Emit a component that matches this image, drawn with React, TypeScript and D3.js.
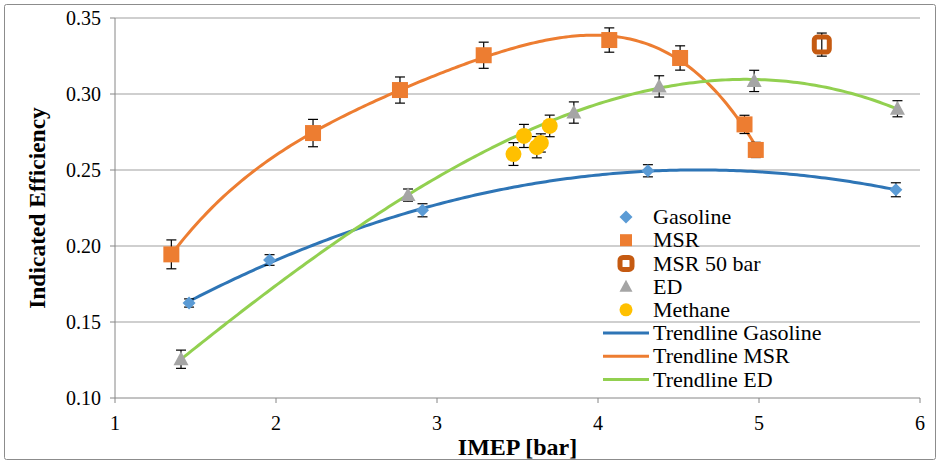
import React from 'react';
import * as d3 from 'd3';

// Measured series (IMEP in bar, indicated efficiency, ± error)
const gasolineX = [1.46, 1.96, 2.91, 4.31, 5.85];
const gasolineY = [0.1625, 0.1908, 0.2235, 0.2495, 0.237];
const gasolineErr = [0.0027, 0.0035, 0.0043, 0.004, 0.0046];

const msrX = [1.35, 2.23, 2.77, 3.29, 4.07, 4.51, 4.91, 4.98];
const msrY = [0.1945, 0.2743, 0.3026, 0.3255, 0.3355, 0.3237, 0.28, 0.2632];
const msrErr = [0.0095, 0.009, 0.0086, 0.0086, 0.008, 0.008, 0.006, 0.005];

const msr50X = [5.39];
const msr50Y = [0.3325];
const msr50Err = [0.0076];

const edX = [1.41, 2.82, 3.85, 4.38, 4.97, 5.86];
const edY = [0.1255, 0.2335, 0.2878, 0.305, 0.3086, 0.2903];
const edErr = [0.006, 0.004, 0.007, 0.007, 0.007, 0.0053];

const methaneX = [3.475, 3.54, 3.62, 3.645, 3.7];
const methaneY = [0.2605, 0.2724, 0.265, 0.2678, 0.279];
const methaneErr = [0.0075, 0.0076, 0.007, 0.006, 0.0071];

// Polynomial trendline orders
const gasolineOrder = 2;
const msrOrder = 4;
const edOrder = 3;

const xTicks = [1, 2, 3, 4, 5, 6];
const yTicks = [0.1, 0.15, 0.2, 0.25, 0.3, 0.35];

const legendLabels = [
  'Gasoline',
  'MSR',
  'MSR 50 bar',
  'ED',
  'Methane',
  'Trendline Gasoline',
  'Trendline MSR',
  'Trendline ED',
];

const C = {
  gasoline: '#5B9BD5',
  gasolineTrend: '#2E75B6',
  msr: '#ED7D31',
  msr50: '#C55A11',
  ed: '#A5A5A5',
  edTrend: '#92D050',
  methane: '#FFC000',
};

const FONT = '"Liberation Serif", "Times New Roman", serif';

// Least-squares polynomial fit; returns coefficients c0..cn
function polyfit(xs: number[], ys: number[], order: number): number[] {
  const n = order + 1;
  const A: number[][] = Array.from({ length: n }, () => new Array(n + 1).fill(0));
  for (let i = 0; i < xs.length; i++) {
    for (let r = 0; r < n; r++) {
      for (let c = 0; c < n; c++) A[r][c] += Math.pow(xs[i], r + c);
      A[r][n] += ys[i] * Math.pow(xs[i], r);
    }
  }
  for (let p = 0; p < n; p++) {
    let best = p;
    for (let r = p + 1; r < n; r++) if (Math.abs(A[r][p]) > Math.abs(A[best][p])) best = r;
    [A[p], A[best]] = [A[best], A[p]];
    for (let r = 0; r < n; r++) {
      if (r === p) continue;
      const f = A[r][p] / A[p][p];
      for (let c = p; c <= n; c++) A[r][c] -= f * A[p][c];
    }
  }
  return A.map((row, i) => row[n] / row[i]);
}

const polyval = (c: number[], x: number) => c.reduce((s, ci, i) => s + ci * Math.pow(x, i), 0);

const x = d3.scaleLinear().domain([1, 6]).range([115, 920]);
const y = d3.scaleLinear().domain([0.1, 0.35]).range([398, 18]);

function trendPath(xs: number[], ys: number[], order: number) {
  const coef = polyfit(xs, ys, order);
  const [lo, hi] = d3.extent(xs) as [number, number];
  const pts = d3.range(0, 201).map((i) => lo + ((hi - lo) * i) / 200);
  return d3
    .line<number>()
    .x((d) => x(d))
    .y((d) => y(polyval(coef, d)))(pts) as string;
}

type Shape = 'diamond' | 'square' | 'hollow' | 'triangle' | 'circle';

function Marker({ shape, cx, cy, size, color }: { shape: Shape; cx: number; cy: number; size: number; color: string }) {
  const h = size / 2;
  if (shape === 'diamond')
    return <path d={`M${cx},${cy - h}L${cx + h},${cy}L${cx},${cy + h}L${cx - h},${cy}Z`} fill={color} />;
  if (shape === 'square') return <rect x={cx - h} y={cy - h} width={size} height={size} fill={color} />;
  if (shape === 'hollow')
    return (
      <rect x={cx - h} y={cy - h} width={size} height={size} rx={3} fill="none" stroke={color} strokeWidth={5} />
    );
  if (shape === 'triangle')
    return <path d={`M${cx},${cy - h * 1.05}L${cx + h},${cy + h * 0.8}L${cx - h},${cy + h * 0.8}Z`} fill={color} />;
  return <circle cx={cx} cy={cy} r={h} fill={color} />;
}

function Series({ xs, ys, errs, shape, size, color }: { xs: number[]; ys: number[]; errs: number[]; shape: Shape; size: number; color: string }) {
  return (
    <g>
      {xs.map((xv, i) => {
        const px = x(xv);
        const top = y(ys[i] + errs[i]);
        const bot = y(ys[i] - errs[i]);
        return (
          <g key={'e' + i} stroke="#000" strokeWidth={1.2}>
            <line x1={px} x2={px} y1={top} y2={bot} />
            <line x1={px - 5} x2={px + 5} y1={top} y2={top} />
            <line x1={px - 5} x2={px + 5} y1={bot} y2={bot} />
          </g>
        );
      })}
      {xs.map((xv, i) => (
        <Marker key={'m' + i} shape={shape} cx={x(xv)} cy={y(ys[i])} size={size} color={color} />
      ))}
    </g>
  );
}

export default function App() {
  const legendY0 = 217;
  const legendStep = 23.2;
  const legendShapes: { shape?: Shape; color: string; size?: number }[] = [
    { shape: 'diamond', color: C.gasoline, size: 13 },
    { shape: 'square', color: C.msr, size: 12 },
    { shape: 'hollow', color: C.msr50, size: 12 },
    { shape: 'triangle', color: C.ed, size: 13 },
    { shape: 'circle', color: C.methane, size: 13 },
    { color: C.gasolineTrend },
    { color: C.msr },
    { color: C.edTrend },
  ];

  return (
    <svg
      width={940}
      height={464}
      style={{ position: 'absolute', left: 0, top: 0, background: '#fff' }}
      fontFamily={FONT}
    >
      <rect x={4.5} y={4.5} width={931} height={455} fill="#fff" stroke="#8c8c8c" strokeWidth={1} rx={2} />

      {/* gridlines */}
      {yTicks.slice(1).map((t) => (
        <line key={t} x1={x(1)} x2={x(6)} y1={y(t)} y2={y(t)} stroke="#BFBFBF" strokeWidth={1.5} />
      ))}

      {/* axes */}
      <line x1={x(1)} x2={x(1)} y1={y(0.35)} y2={y(0.1)} stroke="#868686" strokeWidth={1} />
      <line x1={x(1)} x2={x(6)} y1={y(0.1)} y2={y(0.1)} stroke="#868686" strokeWidth={1} />
      {yTicks.map((t) => (
        <g key={'yt' + t}>
          <line x1={x(1) - 5} x2={x(1)} y1={y(t)} y2={y(t)} stroke="#868686" />
          <text x={101} y={y(t)} dy="0.35em" textAnchor="end" fontSize={20} fill="#000">
            {d3.format('.2f')(t)}
          </text>
        </g>
      ))}
      {xTicks.map((t) => (
        <g key={'xt' + t}>
          <line x1={x(t)} x2={x(t)} y1={y(0.1)} y2={y(0.1) + 5} stroke="#868686" />
          <text x={x(t)} y={430} textAnchor="middle" fontSize={20} fill="#000">
            {t}
          </text>
        </g>
      ))}

      <text x={(x(1) + x(6)) / 2} y={455} textAnchor="middle" fontSize={24} fontWeight="bold">
        IMEP [bar]
      </text>
      <text
        transform={`translate(45,${(y(0.1) + y(0.35)) / 2}) rotate(-90)`}
        textAnchor="middle"
        fontSize={23.5}
        fontWeight="bold"
      >
        Indicated Efficiency
      </text>

      {/* trendlines */}
      <path d={trendPath(gasolineX, gasolineY, gasolineOrder)} fill="none" stroke={C.gasolineTrend} strokeWidth={3} />
      <path d={trendPath(msrX, msrY, msrOrder)} fill="none" stroke={C.msr} strokeWidth={3} />
      <path d={trendPath(edX, edY, edOrder)} fill="none" stroke={C.edTrend} strokeWidth={3} />

      {/* measured points */}
      <Series xs={gasolineX} ys={gasolineY} errs={gasolineErr} shape="diamond" size={13} color={C.gasoline} />
      <Series xs={edX} ys={edY} errs={edErr} shape="triangle" size={15} color={C.ed} />
      <Series xs={methaneX} ys={methaneY} errs={methaneErr} shape="circle" size={16} color={C.methane} />
      <Series xs={msrX} ys={msrY} errs={msrErr} shape="square" size={16} color={C.msr} />
      <Series xs={msr50X} ys={msr50Y} errs={msr50Err} shape="hollow" size={15} color={C.msr50} />

      {/* legend */}
      {legendLabels.map((label, i) => {
        const cy = legendY0 + i * legendStep;
        const s = legendShapes[i];
        return (
          <g key={label}>
            {s.shape ? (
              <Marker shape={s.shape} cx={626} cy={cy} size={s.size!} color={s.color} />
            ) : (
              <line x1={603} x2={649} y1={cy} y2={cy} stroke={s.color} strokeWidth={3} />
            )}
            <text x={653} y={cy} dy="0.33em" fontSize={22} fill="#000">
              {label}
            </text>
          </g>
        );
      })}
    </svg>
  );
}
